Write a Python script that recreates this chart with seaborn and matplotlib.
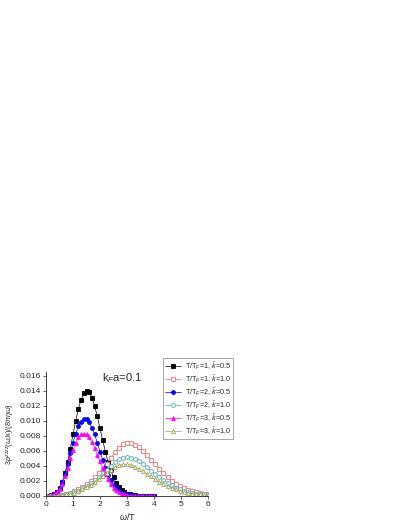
import numpy as np
import pandas as pd
import seaborn as sns
import matplotlib.pyplot as plt

# omega/T grids
w_short = np.round(np.arange(0, 4.01, 0.1), 2)
w_long = np.round(np.arange(0, 6.01, 0.15), 2)

# T/TF=1, k=0.5
s1_k05 = [0, 0.00002, 0.0001, 0.0002, 0.0005, 0.0010, 0.0018, 0.0030, 0.0045, 0.0063,
          0.0082, 0.0100, 0.0116, 0.0128, 0.0137, 0.0140, 0.0138, 0.0131, 0.0120, 0.0106,
          0.0090, 0.0074, 0.0059, 0.0045, 0.0034, 0.0025, 0.0017, 0.0012, 0.0008, 0.0005,
          0.0003, 0.0002, 0.0001, 0.0001, 0.00005, 0.00003, 0.00002, 0.00001, 0, 0, 0]
# T/TF=2, k=0.5
s2_k05 = [0, 0.00002, 0.0001, 0.0002, 0.0005, 0.0010, 0.0018, 0.0029, 0.0042, 0.0057,
          0.0071, 0.0083, 0.0093, 0.0099, 0.0102, 0.0102, 0.0098, 0.0091, 0.0082, 0.0071,
          0.0059, 0.0048, 0.0037, 0.0028, 0.0021, 0.0015, 0.0010, 0.0007, 0.0004, 0.0003,
          0.0002, 0.0001, 0.00007, 0.00004, 0.00002, 0.00001, 0, 0, 0, 0, 0]
# T/TF=3, k=0.5
s3_k05 = [0, 0.00002, 0.0001, 0.0002, 0.0005, 0.0009, 0.0016, 0.0026, 0.0037, 0.0050,
          0.0061, 0.0071, 0.0078, 0.0082, 0.0083, 0.0082, 0.0078, 0.0072, 0.0064, 0.0055,
          0.0046, 0.0037, 0.0029, 0.0022, 0.0016, 0.0011, 0.0008, 0.0005, 0.0003, 0.0002,
          0.0001, 0.00006, 0.00003, 0.00002, 0.00001, 0, 0, 0, 0, 0, 0]
# T/TF=1, k=1.0
s1_k10 = [0, 0.00001, 0.00003, 0.00007, 0.00014, 0.00025, 0.0004, 0.0006, 0.0009, 0.0012,
          0.0016, 0.0020, 0.0025, 0.0030, 0.0036, 0.0043, 0.0051, 0.0058, 0.0064, 0.0069,
          0.0070, 0.0070, 0.0068, 0.0065, 0.0060, 0.0054, 0.0048, 0.0042, 0.0036, 0.0030,
          0.0025, 0.0020, 0.0016, 0.0013, 0.0010, 0.0008, 0.0006, 0.0005, 0.0004, 0.0003, 0.0002]
# T/TF=2, k=1.0
s2_k10 = [0, 0.00001, 0.00003, 0.00007, 0.00013, 0.00022, 0.00035, 0.0005, 0.0007, 0.0010,
          0.0013, 0.0017, 0.0021, 0.0025, 0.0030, 0.0035, 0.0040, 0.0045, 0.0049, 0.0051,
          0.0052, 0.0051, 0.0049, 0.0046, 0.0042, 0.0038, 0.0033, 0.0029, 0.0025, 0.0021,
          0.0017, 0.0014, 0.0011, 0.0009, 0.0007, 0.0005, 0.0004, 0.0003, 0.0002, 0.0002, 0.0001]
# T/TF=3, k=1.0
s3_k10 = [0, 0.00001, 0.00003, 0.00006, 0.00012, 0.0002, 0.0003, 0.00045, 0.0007, 0.0009,
          0.0012, 0.0015, 0.0019, 0.0023, 0.0027, 0.0031, 0.0035, 0.0038, 0.0041, 0.0042,
          0.0042, 0.0041, 0.0039, 0.0036, 0.0033, 0.0029, 0.0026, 0.0022, 0.0019, 0.0016,
          0.0013, 0.0011, 0.0009, 0.0007, 0.0005, 0.0004, 0.0003, 0.0002, 0.0002, 0.0001, 0.0001]

series = [
    (r'T/T$_F$=1, $\bar{k}$=0.5', w_short, s1_k05, 'black', 's', True),
    (r'T/T$_F$=1, $\bar{k}$=1.0', w_long, s1_k10, '#f07070', 's', False),
    (r'T/T$_F$=2, $\bar{k}$=0.5', w_short, s2_k05, '#0000ff', 'o', True),
    (r'T/T$_F$=2, $\bar{k}$=1.0', w_long, s2_k10, '#50b0b0', 'o', False),
    (r'T/T$_F$=3, $\bar{k}$=0.5', w_short, s3_k05, '#ff00ff', '^', True),
    (r'T/T$_F$=3, $\bar{k}$=1.0', w_long, s3_k10, '#a0a050', '^', False),
]

sns.set_style('ticks')
plt.rcParams['font.family'] = ['Liberation Sans', 'DejaVu Sans']
plt.rcParams['mathtext.fontset'] = 'custom'
plt.rcParams['mathtext.rm'] = 'Liberation Sans'
plt.rcParams['mathtext.it'] = 'Liberation Sans:italic'

fig = plt.figure(figsize=(4.05, 5.24), dpi=100)
ax = fig.add_axes([46 / 405, 28 / 524, 162 / 405, 124 / 524])

for label, x, y, c, m, filled in series:
    df = pd.DataFrame({'w': x, 'v': y})
    sns.lineplot(data=df, x='w', y='v', ax=ax, color=c, linewidth=0.5,
                 marker=m, markersize=2.8, markeredgewidth=0.6,
                 markerfacecolor=c if filled else 'white', markeredgecolor=c,
                 label=label)

ax.set_xlim(0, 6)
ax.set_ylim(0, 0.0165)
ax.set_xticks(range(0, 7))
ax.set_yticks(np.arange(0, 0.0161, 0.002))
ax.yaxis.set_major_formatter(plt.FormatStrFormatter('%.3f'))
ax.tick_params(labelsize=6, length=2, width=0.5, pad=1.5)
for s in ['left', 'bottom']:
    ax.spines[s].set_linewidth(0.6)
sns.despine(ax=ax)

ax.set_xlabel(r'$\omega$/T', fontsize=6.5, labelpad=2)
ax.set_ylabel(r'3$\rho^{zzzz}$($\omega$,k)/(8$\pi\eta\omega$)', fontsize=5.2, labelpad=2)
ax.text(0.47, 0.95, r'k$_F$a=0.1', transform=ax.transAxes, fontsize=8,
        ha='center', va='center')

leg = ax.legend(loc='upper left', bbox_to_anchor=(163 / 405, 1 - 358 / 524),
                bbox_transform=fig.transFigure, fontsize=5.2, frameon=True,
                fancybox=False, edgecolor='#808080', handlelength=2.2,
                borderpad=0.3, labelspacing=0.2, handletextpad=0.5,
                borderaxespad=0)
leg.get_frame().set_linewidth(0.6)

fig.savefig('out.png', dpi=100)
